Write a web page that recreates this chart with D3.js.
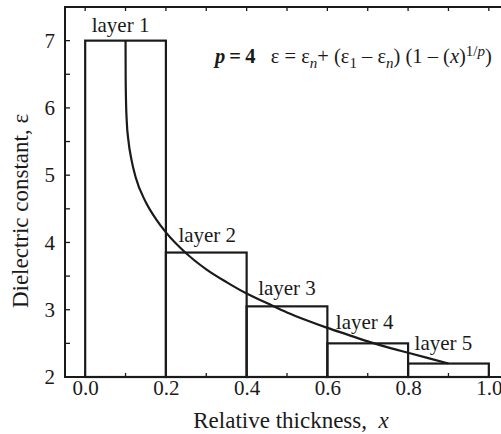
<!DOCTYPE html>
<html>
<head>
<meta charset="utf-8">
<script src="https://cdn.jsdelivr.net/npm/d3@7"></script>
<style>
  body { margin: 0; background: #fff; }
  svg { display: block; font-family: "Liberation Serif", "Times New Roman", serif; }
</style>
</head>
<body>
<div id="d3"></div>
<script>
// layers (relative thickness ranges and dielectric constant)
const layerNames = ["layer 1", "layer 2", "layer 3", "layer 4", "layer 5"];
const layerStart = [0.0, 0.2, 0.4, 0.6, 0.8];
const layerEnd = [0.2, 0.4, 0.6, 0.8, 1.0];
const layerEps = [7.0, 3.85, 3.05, 2.5, 2.2];

// continuous profile
const curveX = [0.1, 0.1003, 0.101, 0.103, 0.107, 0.115, 0.125, 0.15, 0.175, 0.2, 0.25, 0.3, 0.35, 0.4, 0.45, 0.5, 0.55, 0.6, 0.65, 0.7, 0.75, 0.8, 0.85, 0.9];
const curveEps = [7.0, 6.45, 6.15, 5.8, 5.52, 5.22, 4.97, 4.6, 4.35, 4.15, 3.84, 3.6, 3.41, 3.24, 3.1, 2.96, 2.84, 2.73, 2.63, 2.53, 2.44, 2.36, 2.28, 2.2];

const xTicks = [0.0, 0.2, 0.4, 0.6, 0.8, 1.0];
const yTicks = [2, 3, 4, 5, 6, 7];

function renderChart() {
  const width = 501;
  const height = 434;
  const margin = { top: 7, bottom: 57, left: 65, right: -8 };
  const ink = "#1a1a1a";

  const svg = d3
    .select("#d3")
    .append("svg")
    .attr("width", width)
    .attr("height", height);

  const x = d3.scaleLinear().domain([-0.05, 1.05]).range([margin.left, width - margin.right]);
  const y = d3.scaleLinear().domain([2, 7.5]).range([height - margin.bottom, margin.top]);

  // bottom axis: labels only, ticks drawn inside
  const xAxis = svg
    .append("g")
    .attr("transform", `translate(0, ${y(2)})`)
    .call(d3.axisBottom(x).tickValues(xTicks).tickFormat(d3.format(".1f")).tickSize(0).tickPadding(3));
  xAxis.select(".domain").remove();
  xAxis.selectAll("text").style("font-size", "21px").style("fill", ink).style("font-family", "Liberation Serif");

  const yAxis = svg
    .append("g")
    .attr("transform", `translate(${x(-0.05)}, 0)`)
    .call(d3.axisLeft(y).tickValues(yTicks).tickFormat(d3.format("d")).tickSize(0).tickPadding(10));
  yAxis.select(".domain").remove();
  yAxis.selectAll("text").style("font-size", "21px").style("fill", ink).style("font-family", "Liberation Serif");

  // inward ticks
  const minorX = d3.range(0, 11).map((i) => i / 10);
  const minorY = d3.range(4, 15).map((i) => i / 2);
  const ticks = svg.append("g").attr("stroke", ink).attr("stroke-width", 1.3);
  ticks
    .selectAll(".tb")
    .data(minorX)
    .join("line")
    .attr("x1", (d) => x(d))
    .attr("x2", (d) => x(d))
    .attr("y1", y(2))
    .attr("y2", (d, i) => y(2) - (i % 2 === 0 ? 6 : 4));
  ticks
    .selectAll(".tt")
    .data(minorX)
    .join("line")
    .attr("class", "tt")
    .attr("x1", (d) => x(d))
    .attr("x2", (d) => x(d))
    .attr("y1", y(7.5))
    .attr("y2", y(7.5) + 4);
  ticks
    .selectAll(".tl")
    .data(minorY)
    .join("line")
    .attr("class", "tl")
    .attr("x1", x(-0.05))
    .attr("x2", x(-0.05) + 5)
    .attr("y1", (d) => y(d))
    .attr("y2", (d) => y(d));

  // frame
  svg
    .append("rect")
    .attr("x", x(-0.05))
    .attr("y", y(7.5))
    .attr("width", x(1.05) - x(-0.05))
    .attr("height", y(2) - y(7.5))
    .attr("fill", "none")
    .attr("stroke", ink)
    .attr("stroke-width", 2);

  // layer bars
  svg
    .append("g")
    .selectAll("rect")
    .data(layerNames)
    .join("rect")
    .attr("x", (d, i) => x(layerStart[i]))
    .attr("y", (d, i) => y(layerEps[i]))
    .attr("width", (d, i) => x(layerEnd[i]) - x(layerStart[i]))
    .attr("height", (d, i) => y(2) - y(layerEps[i]))
    .attr("fill", "none")
    .attr("stroke", ink)
    .attr("stroke-width", 2.2);

  // curve
  const line = d3
    .line()
    .x((d) => x(d[0]))
    .y((d) => y(d[1]))
    .curve(d3.curveMonotoneX);
  svg
    .append("path")
    .datum(curveX.map((v, i) => [v, curveEps[i]]))
    .attr("d", line)
    .attr("fill", "none")
    .attr("stroke", ink)
    .attr("stroke-width", 2.2);

  // layer labels: pixel offsets from the middle of each bar top
  const labelDx = [-5, 1, 0, -3, -5];
  const labelDy = [-9, -11, -11, -14, -14];
  svg
    .append("g")
    .selectAll("text")
    .data(layerNames)
    .join("text")
    .attr("x", (d, i) => x((layerStart[i] + layerEnd[i]) / 2) + labelDx[i])
    .attr("y", (d, i) => y(layerEps[i]) + labelDy[i])
    .attr("text-anchor", "middle")
    .style("font-size", "21px")
    .style("fill", ink)
    .text((d) => d);

  // formula
  const sub = "15px";
  const f = svg
    .append("text")
    .attr("x", 215)
    .attr("y", 63)
    .style("font-size", "20.5px")
    .style("fill", ink);
  f.append("tspan").style("font-weight", "bold").style("font-style", "italic").text("p");
  f.append("tspan").style("font-weight", "bold").text("\u2009=\u20094");
  f.append("tspan").text("\u2002 ε = ε");
  f.append("tspan").attr("dy", 5).style("font-size", sub).style("font-style", "italic").text("n");
  f.append("tspan").attr("dy", -5).text("+ (ε");
  f.append("tspan").attr("dy", 5).style("font-size", sub).text("1");
  f.append("tspan").attr("dy", -5).text(" – ε");
  f.append("tspan").attr("dy", 5).style("font-size", sub).style("font-style", "italic").text("n");
  f.append("tspan").attr("dy", -5).text(") (1 – (");
  f.append("tspan").style("font-style", "italic").text("x");
  f.append("tspan").text(")");
  f.append("tspan").attr("dy", -7).style("font-size", sub).text("1/");
  f.append("tspan").style("font-size", sub).style("font-style", "italic").text("p");
  f.append("tspan").attr("dy", 7).text(")");

  // axis titles
  const xt = svg
    .append("text")
    .attr("x", 291)
    .attr("y", 428)
    .attr("text-anchor", "middle")
    .style("font-size", "23px")
    .style("fill", ink);
  xt.append("tspan").text("Relative thickness,\u2002");
  xt.append("tspan").style("font-style", "italic").text("x");

  svg
    .append("text")
    .attr("transform", `translate(28, 211) rotate(-90)`)
    .attr("text-anchor", "middle")
    .style("font-size", "23px")
    .style("fill", ink)
    .text("Dielectric constant, ε");
}

renderChart();
</script>
</body>
</html>
